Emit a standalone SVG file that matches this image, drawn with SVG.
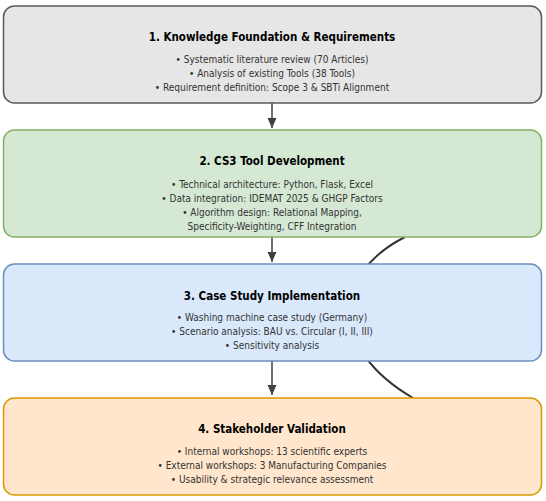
<svg xmlns="http://www.w3.org/2000/svg" width="546" height="501" viewBox="0 0 546 501">
<style>
.t{font-family:"DejaVu Sans Condensed","DejaVu Sans",sans-serif;font-stretch:condensed;font-weight:bold;font-size:11.5px;fill:#000;text-anchor:middle}
.b{font-family:"DejaVu Sans Condensed","DejaVu Sans",sans-serif;font-stretch:condensed;font-size:10px;fill:#333;text-anchor:middle}
.box{stroke-width:1.5}
</style>
<defs>
<marker id="ah" markerWidth="11" markerHeight="10" refX="10" refY="5" orient="auto" markerUnits="userSpaceOnUse">
<path d="M0,0.5 L10,5 L0,9.5 z" fill="#404040"/>
</marker>
</defs>
<rect width="546" height="501" fill="#fff"/>
<g id="connectors" fill="none" stroke="#404040" stroke-width="1.5">
<path d="M413,398 C330,350 330,275 405,237" stroke="#333" stroke-width="2"/>
<line x1="272" y1="103" x2="272" y2="128" marker-end="url(#ah)"/>
<line x1="272" y1="237" x2="272" y2="262" marker-end="url(#ah)"/>
<line x1="272" y1="361" x2="272" y2="395" marker-end="url(#ah)"/>
</g>
<g id="node1">
<rect class="box" x="3.5" y="6" width="538" height="97" rx="11" fill="#e6e6e6" stroke="#595959"/>
<text class="t" x="272" y="41">1. Knowledge Foundation &amp; Requirements</text>
<text class="b" x="272" y="63">• Systematic literature review (70 Articles)</text>
<text class="b" x="272" y="77">• Analysis of existing Tools (38 Tools)</text>
<text class="b" x="272" y="91">• Requirement definition: Scope 3 &amp; SBTi Alignment</text>
</g>
<g id="node2">
<rect class="box" x="3.5" y="130" width="538" height="107" rx="11" fill="#d5e8d4" stroke="#82b366"/>
<text class="t" x="272" y="165">2. CS3 Tool Development</text>
<text class="b" x="272" y="188">• Technical architecture: Python, Flask, Excel</text>
<text class="b" x="272" y="202">• Data integration: IDEMAT 2025 &amp; GHGP Factors</text>
<text class="b" x="272" y="216">• Algorithm design: Relational Mapping,</text>
<text class="b" x="272" y="230">Specificity-Weighting, CFF Integration</text>
</g>
<g id="node3">
<rect class="box" x="3.5" y="264" width="538" height="97" rx="11" fill="#dae8fc" stroke="#6c8ebf"/>
<text class="t" x="272" y="300">3. Case Study Implementation</text>
<text class="b" x="272" y="321">• Washing machine case study (Germany)</text>
<text class="b" x="272" y="335">• Scenario analysis: BAU vs. Circular (I, II, III)</text>
<text class="b" x="272" y="349">• Sensitivity analysis</text>
</g>
<g id="node4">
<rect class="box" x="3.5" y="398" width="538" height="97" rx="11" fill="#ffe6cc" stroke="#d79b00"/>
<text class="t" x="272" y="433">4. Stakeholder Validation</text>
<text class="b" x="272" y="455">• Internal workshops: 13 scientific experts</text>
<text class="b" x="272" y="469">• External workshops: 3 Manufacturing Companies</text>
<text class="b" x="272" y="483">• Usability &amp; strategic relevance assessment</text>
</g>
</svg>
